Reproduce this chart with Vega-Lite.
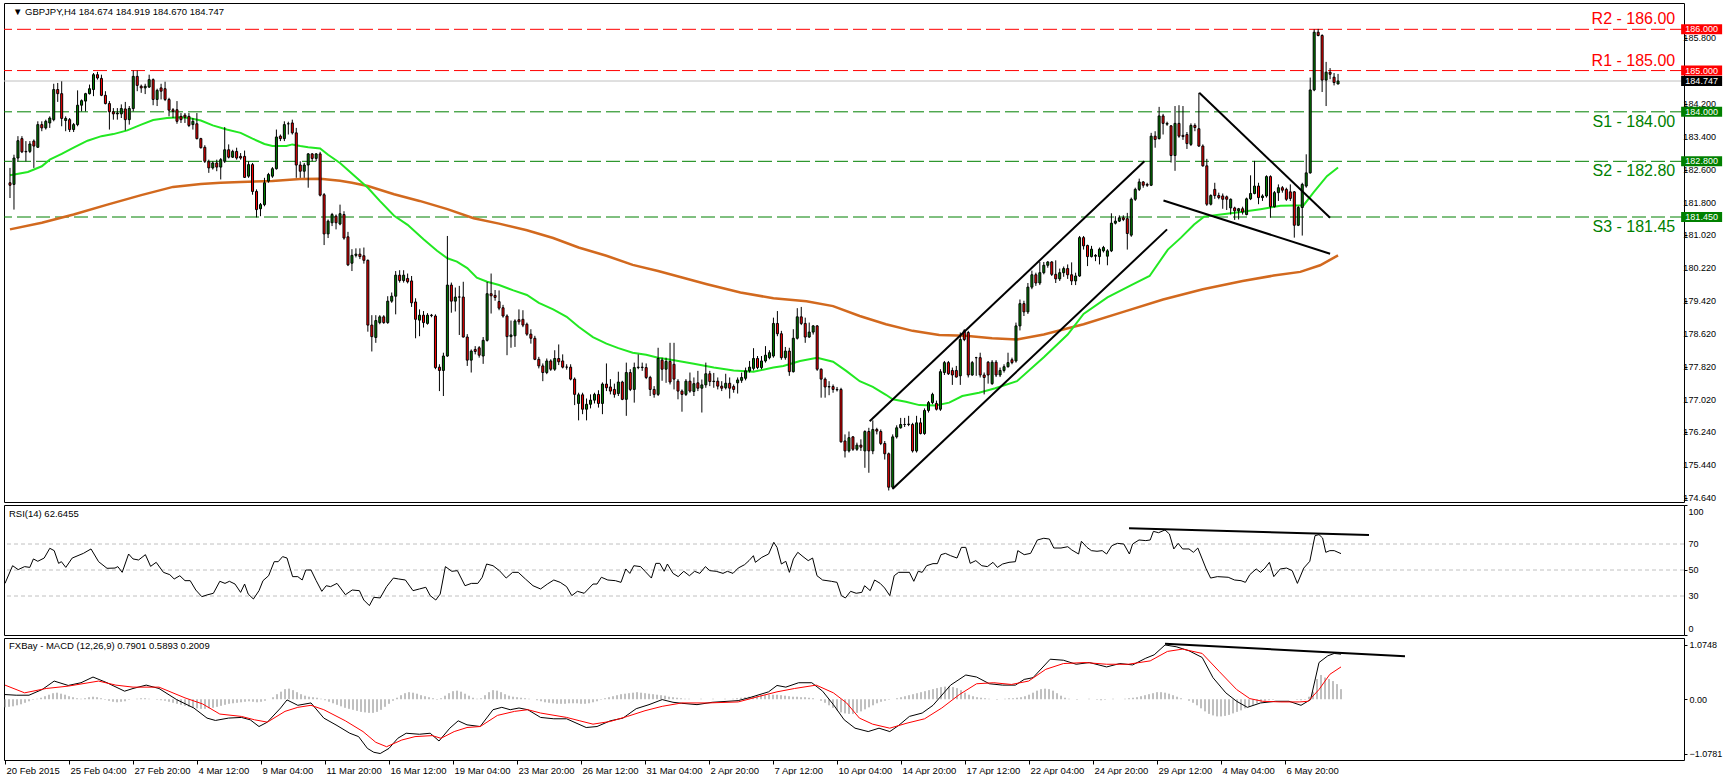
{
"$schema":"https://vega.github.io/schema/vega-lite/v6.json",
"padding":{"left":2,"top":2,"right":0,"bottom":0},
"background":"white",
"spacing":3,
"bounds":"flush",
"config":{"view":{"stroke":"#000","strokeWidth":1},"axis":{"labelFont":"Liberation Sans","labelOverlap":false},"text":{"font":"Liberation Sans"}},
"resolve":{"scale":{"x":"independent","y":"independent"}},
"datasets":{
"bars":[
{"i":0,"o":182.28,"h":182.64,"l":181.91,"c":182.22,"m":-0.16},
{"i":1,"o":182.24,"h":182.96,"l":181.63,"c":182.88,"m":-0.15},
{"i":2,"o":182.88,"h":183.41,"l":182.8,"c":183.3,"m":-0.14},
{"i":3,"o":183.35,"h":183.41,"l":183.0,"c":183.03,"m":-0.12},
{"i":4,"o":183.04,"h":183.29,"l":182.8,"c":183.03,"m":-0.1},
{"i":5,"o":183.04,"h":183.29,"l":183.0,"c":183.22,"m":-0.07},
{"i":6,"o":183.29,"h":183.33,"l":182.64,"c":183.17,"m":-0.04},
{"i":7,"o":183.14,"h":183.77,"l":183.13,"c":183.69,"m":-0.01},
{"i":8,"o":183.69,"h":183.77,"l":183.53,"c":183.61,"m":0.01},
{"i":9,"o":183.61,"h":183.81,"l":183.57,"c":183.77,"m":0.03},
{"i":10,"o":183.73,"h":183.89,"l":183.61,"c":183.85,"m":0.06},
{"i":11,"o":183.81,"h":184.68,"l":183.77,"c":184.54,"m":0.09},
{"i":12,"o":184.54,"h":184.7,"l":184.24,"c":184.44,"m":0.12},
{"i":13,"o":184.44,"h":184.74,"l":183.65,"c":183.84,"m":0.13},
{"i":14,"o":183.79,"h":183.89,"l":183.53,"c":183.84,"m":0.11},
{"i":15,"o":183.81,"h":183.85,"l":183.51,"c":183.57,"m":0.09},
{"i":16,"o":183.57,"h":183.73,"l":183.51,"c":183.69,"m":0.06},
{"i":17,"o":183.69,"h":184.52,"l":183.65,"c":184.16,"m":0.04},
{"i":18,"o":184.16,"h":184.3,"l":184.01,"c":184.27,"m":0.02},
{"i":19,"o":184.26,"h":184.46,"l":184.01,"c":184.44,"m":0.01},
{"i":20,"o":184.44,"h":184.66,"l":184.42,"c":184.56,"m":0.02},
{"i":21,"o":184.54,"h":184.94,"l":184.38,"c":184.9,"m":0.04},
{"i":22,"o":184.9,"h":184.97,"l":184.78,"c":184.82,"m":0.05},
{"i":23,"o":184.81,"h":184.9,"l":184.38,"c":184.4,"m":0.04},
{"i":24,"o":184.4,"h":184.5,"l":184.18,"c":184.2,"m":0.02},
{"i":25,"o":184.2,"h":184.26,"l":183.57,"c":184.0,"m":-0.01},
{"i":26,"o":184.0,"h":184.09,"l":183.81,"c":183.95,"m":-0.03},
{"i":27,"o":183.95,"h":184.09,"l":183.81,"c":183.97,"m":-0.05},
{"i":28,"o":183.95,"h":184.18,"l":183.85,"c":184.08,"m":-0.06},
{"i":29,"o":184.07,"h":184.24,"l":183.55,"c":183.81,"m":-0.05},
{"i":30,"o":183.81,"h":184.14,"l":183.69,"c":184.08,"m":-0.04},
{"i":31,"o":184.08,"h":185.0,"l":184.01,"c":184.86,"m":-0.01},
{"i":32,"o":184.86,"h":185.0,"l":184.5,"c":184.64,"m":0},
{"i":33,"o":184.62,"h":184.66,"l":184.46,"c":184.58,"m":0.01},
{"i":34,"o":184.58,"h":184.68,"l":184.43,"c":184.62,"m":0.02},
{"i":35,"o":184.6,"h":184.9,"l":184.58,"c":184.78,"m":0.02},
{"i":36,"o":184.78,"h":184.81,"l":184.16,"c":184.3,"m":0.01},
{"i":37,"o":184.3,"h":184.56,"l":184.14,"c":184.52,"m":0},
{"i":38,"o":184.58,"h":184.68,"l":184.3,"c":184.5,"m":-0.01},
{"i":39,"o":184.56,"h":184.73,"l":184.26,"c":184.3,"m":-0.02},
{"i":40,"o":184.3,"h":184.34,"l":183.89,"c":184.04,"m":-0.03},
{"i":41,"o":184.05,"h":184.09,"l":183.85,"c":184.01,"m":-0.05},
{"i":42,"o":184.05,"h":184.26,"l":183.71,"c":183.77,"m":-0.07},
{"i":43,"o":183.89,"h":183.97,"l":183.73,"c":183.81,"m":-0.09},
{"i":44,"o":183.92,"h":183.97,"l":183.73,"c":183.87,"m":-0.11},
{"i":45,"o":183.89,"h":183.97,"l":183.63,"c":183.67,"m":-0.13},
{"i":46,"o":183.69,"h":183.85,"l":183.57,"c":183.77,"m":-0.15},
{"i":47,"o":183.71,"h":183.97,"l":183.33,"c":183.35,"m":-0.17},
{"i":48,"o":183.35,"h":183.37,"l":183.11,"c":183.13,"m":-0.18},
{"i":49,"o":183.14,"h":183.19,"l":182.76,"c":182.8,"m":-0.19},
{"i":50,"o":182.79,"h":182.84,"l":182.52,"c":182.64,"m":-0.19},
{"i":51,"o":182.64,"h":182.8,"l":182.6,"c":182.76,"m":-0.18},
{"i":52,"o":182.76,"h":182.84,"l":182.56,"c":182.66,"m":-0.17},
{"i":53,"o":182.66,"h":182.88,"l":182.36,"c":182.84,"m":-0.15},
{"i":54,"o":182.8,"h":183.63,"l":182.76,"c":183.08,"m":-0.13},
{"i":55,"o":183.08,"h":183.21,"l":182.87,"c":182.9,"m":-0.11},
{"i":56,"o":182.9,"h":183.08,"l":182.88,"c":183.04,"m":-0.09},
{"i":57,"o":183.04,"h":183.13,"l":182.84,"c":182.88,"m":-0.08},
{"i":58,"o":182.92,"h":183.0,"l":182.84,"c":182.88,"m":-0.07},
{"i":59,"o":182.92,"h":183.06,"l":182.4,"c":182.41,"m":-0.06},
{"i":60,"o":182.44,"h":182.8,"l":182.4,"c":182.72,"m":-0.05},
{"i":61,"o":182.72,"h":182.76,"l":181.99,"c":182.07,"m":-0.04},
{"i":62,"o":182.07,"h":182.12,"l":181.44,"c":181.63,"m":-0.05},
{"i":63,"o":181.65,"h":181.79,"l":181.47,"c":181.75,"m":-0.06},
{"i":64,"o":181.75,"h":182.4,"l":181.71,"c":182.28,"m":-0.05},
{"i":65,"o":182.32,"h":182.52,"l":182.28,"c":182.48,"m":-0.03},
{"i":66,"o":182.44,"h":182.66,"l":182.4,"c":182.62,"m":0},
{"i":67,"o":182.62,"h":183.57,"l":182.6,"c":183.39,"m":0.04},
{"i":68,"o":183.41,"h":183.45,"l":183.29,"c":183.35,"m":0.1},
{"i":69,"o":183.35,"h":183.77,"l":183.29,"c":183.69,"m":0.15},
{"i":70,"o":183.71,"h":183.76,"l":183.45,"c":183.71,"m":0.2},
{"i":71,"o":183.73,"h":183.81,"l":183.45,"c":183.49,"m":0.21},
{"i":72,"o":183.49,"h":183.61,"l":182.4,"c":182.71,"m":0.18},
{"i":73,"o":182.71,"h":182.8,"l":182.4,"c":182.56,"m":0.14},
{"i":74,"o":182.56,"h":182.76,"l":182.4,"c":182.71,"m":0.1},
{"i":75,"o":182.71,"h":183.0,"l":182.16,"c":182.98,"m":0.07},
{"i":76,"o":182.98,"h":183.0,"l":182.8,"c":182.87,"m":0.05},
{"i":77,"o":182.87,"h":183.0,"l":182.8,"c":182.98,"m":0.04},
{"i":78,"o":182.98,"h":183.03,"l":181.95,"c":181.98,"m":0.03},
{"i":79,"o":181.99,"h":182.03,"l":180.77,"c":181.04,"m":0.01},
{"i":80,"o":181.04,"h":181.39,"l":180.94,"c":181.35,"m":-0.02},
{"i":81,"o":181.31,"h":181.55,"l":181.23,"c":181.51,"m":-0.05},
{"i":82,"o":181.47,"h":181.51,"l":181.15,"c":181.31,"m":-0.08},
{"i":83,"o":181.28,"h":181.75,"l":181.25,"c":181.53,"m":-0.11},
{"i":84,"o":181.51,"h":181.59,"l":180.9,"c":180.94,"m":-0.14},
{"i":85,"o":180.97,"h":181.09,"l":180.26,"c":180.29,"m":-0.17},
{"i":86,"o":180.33,"h":180.67,"l":180.14,"c":180.52,"m":-0.19},
{"i":87,"o":180.52,"h":180.69,"l":180.47,"c":180.55,"m":-0.21},
{"i":88,"o":180.55,"h":180.69,"l":180.43,"c":180.49,"m":-0.23},
{"i":89,"o":180.51,"h":180.71,"l":180.32,"c":180.4,"m":-0.25},
{"i":90,"o":180.4,"h":180.42,"l":178.67,"c":178.83,"m":-0.26},
{"i":91,"o":178.83,"h":179.07,"l":178.19,"c":178.55,"m":-0.27},
{"i":92,"o":178.53,"h":179.07,"l":178.4,"c":178.94,"m":-0.27},
{"i":93,"o":178.89,"h":179.07,"l":178.85,"c":179.03,"m":-0.25},
{"i":94,"o":179.03,"h":179.07,"l":178.86,"c":178.89,"m":-0.21},
{"i":95,"o":178.89,"h":179.53,"l":178.86,"c":179.41,"m":-0.15},
{"i":96,"o":179.41,"h":179.62,"l":179.37,"c":179.53,"m":-0.09},
{"i":97,"o":179.53,"h":180.14,"l":179.09,"c":180.04,"m":-0.03},
{"i":98,"o":180.04,"h":180.16,"l":179.86,"c":179.91,"m":0.03},
{"i":99,"o":179.91,"h":180.16,"l":179.86,"c":180.04,"m":0.08},
{"i":100,"o":179.96,"h":180.08,"l":179.84,"c":179.88,"m":0.12},
{"i":101,"o":179.9,"h":180.02,"l":179.27,"c":179.37,"m":0.14},
{"i":102,"o":179.39,"h":179.48,"l":178.51,"c":178.97,"m":0.13},
{"i":103,"o":178.95,"h":179.21,"l":178.56,"c":179.07,"m":0.11},
{"i":104,"o":179.07,"h":179.17,"l":178.77,"c":178.89,"m":0.08},
{"i":105,"o":178.87,"h":179.12,"l":178.84,"c":179.07,"m":0.06},
{"i":106,"o":179.07,"h":179.1,"l":179.02,"c":179.06,"m":0.04},
{"i":107,"o":179.05,"h":179.09,"l":177.76,"c":177.8,"m":0.02},
{"i":108,"o":177.81,"h":177.88,"l":177.23,"c":177.73,"m":-0.01},
{"i":109,"o":177.73,"h":178.16,"l":177.11,"c":178.08,"m":0.02},
{"i":110,"o":178.08,"h":180.99,"l":178.06,"c":179.8,"m":0.07},
{"i":111,"o":179.8,"h":179.86,"l":179.13,"c":179.41,"m":0.12},
{"i":112,"o":179.41,"h":179.74,"l":179.16,"c":179.51,"m":0.16},
{"i":113,"o":179.51,"h":179.78,"l":178.59,"c":179.51,"m":0.17},
{"i":114,"o":179.51,"h":179.88,"l":178.53,"c":178.54,"m":0.15},
{"i":115,"o":178.54,"h":178.61,"l":177.84,"c":177.98,"m":0.11},
{"i":116,"o":177.98,"h":178.24,"l":177.68,"c":178.2,"m":0.07},
{"i":117,"o":178.24,"h":178.32,"l":178.12,"c":178.19,"m":0.03},
{"i":118,"o":178.28,"h":178.32,"l":178.04,"c":178.1,"m":0.01},
{"i":119,"o":178.08,"h":178.54,"l":177.89,"c":178.46,"m":0.02},
{"i":120,"o":178.46,"h":179.88,"l":178.43,"c":179.59,"m":0.08},
{"i":121,"o":179.59,"h":180.08,"l":179.11,"c":179.54,"m":0.14},
{"i":122,"o":179.55,"h":179.68,"l":179.42,"c":179.5,"m":0.18},
{"i":123,"o":179.4,"h":179.67,"l":179.19,"c":179.24,"m":0.17},
{"i":124,"o":179.25,"h":179.32,"l":179.01,"c":179.05,"m":0.14},
{"i":125,"o":179.05,"h":179.09,"l":178.1,"c":178.55,"m":0.1},
{"i":126,"o":178.55,"h":178.94,"l":178.28,"c":178.59,"m":0.07},
{"i":127,"o":178.57,"h":178.97,"l":178.3,"c":178.93,"m":0.05},
{"i":128,"o":178.96,"h":179.21,"l":178.84,"c":178.91,"m":0.04},
{"i":129,"o":178.97,"h":179.19,"l":178.78,"c":178.83,"m":0.03},
{"i":130,"o":178.85,"h":178.89,"l":178.57,"c":178.61,"m":0.02},
{"i":131,"o":178.61,"h":178.73,"l":178.38,"c":178.51,"m":0.01},
{"i":132,"o":178.51,"h":178.57,"l":177.98,"c":178.0,"m":0},
{"i":133,"o":178.0,"h":178.06,"l":177.78,"c":177.84,"m":-0.02},
{"i":134,"o":177.84,"h":177.9,"l":177.47,"c":177.68,"m":-0.04},
{"i":135,"o":177.68,"h":178.02,"l":177.64,"c":177.96,"m":-0.06},
{"i":136,"o":177.96,"h":178.0,"l":177.72,"c":177.76,"m":-0.07},
{"i":137,"o":177.76,"h":178.22,"l":177.72,"c":178.02,"m":-0.08},
{"i":138,"o":178.02,"h":178.36,"l":177.86,"c":177.94,"m":-0.09},
{"i":139,"o":177.96,"h":178.12,"l":177.78,"c":177.81,"m":-0.09},
{"i":140,"o":177.81,"h":177.88,"l":177.75,"c":177.81,"m":-0.09},
{"i":141,"o":177.81,"h":177.88,"l":177.49,"c":177.52,"m":-0.08},
{"i":142,"o":177.52,"h":177.56,"l":176.89,"c":177.15,"m":-0.08},
{"i":143,"o":176.93,"h":177.19,"l":176.52,"c":177.14,"m":-0.08},
{"i":144,"o":177.14,"h":177.19,"l":176.67,"c":176.79,"m":-0.09},
{"i":145,"o":176.79,"h":177.05,"l":176.52,"c":176.91,"m":-0.09},
{"i":146,"o":176.91,"h":177.15,"l":176.81,"c":177.01,"m":-0.08},
{"i":147,"o":177.01,"h":177.19,"l":176.93,"c":177.15,"m":-0.06},
{"i":148,"o":177.15,"h":177.25,"l":176.83,"c":176.93,"m":-0.04},
{"i":149,"o":176.93,"h":177.44,"l":176.67,"c":177.4,"m":-0.01},
{"i":150,"o":177.4,"h":177.9,"l":177.23,"c":177.31,"m":0.02},
{"i":151,"o":177.33,"h":177.52,"l":177.15,"c":177.23,"m":0.04},
{"i":152,"o":177.27,"h":177.41,"l":177.07,"c":177.15,"m":0.06},
{"i":153,"o":177.17,"h":177.7,"l":177.11,"c":177.45,"m":0.08},
{"i":154,"o":177.45,"h":177.48,"l":177.01,"c":177.03,"m":0.1},
{"i":155,"o":177.03,"h":177.92,"l":176.63,"c":177.68,"m":0.11},
{"i":156,"o":177.68,"h":177.76,"l":177.23,"c":177.27,"m":0.12},
{"i":157,"o":177.27,"h":177.92,"l":176.95,"c":177.8,"m":0.13},
{"i":158,"o":177.8,"h":178.12,"l":177.76,"c":177.81,"m":0.14},
{"i":159,"o":177.81,"h":177.92,"l":177.72,"c":177.8,"m":0.13},
{"i":160,"o":177.8,"h":177.9,"l":177.52,"c":177.56,"m":0.12},
{"i":161,"o":177.56,"h":177.6,"l":177.11,"c":177.27,"m":0.11},
{"i":162,"o":177.27,"h":177.35,"l":177.07,"c":177.15,"m":0.1},
{"i":163,"o":177.15,"h":178.28,"l":177.11,"c":178.02,"m":0.09},
{"i":164,"o":177.98,"h":178.04,"l":177.48,"c":177.76,"m":0.08},
{"i":165,"o":177.76,"h":178.04,"l":177.43,"c":177.95,"m":0.07},
{"i":166,"o":177.95,"h":178.4,"l":177.39,"c":177.45,"m":0.05},
{"i":167,"o":177.88,"h":178.4,"l":177.27,"c":177.52,"m":0.04},
{"i":168,"o":177.47,"h":177.52,"l":177.03,"c":177.23,"m":0.03},
{"i":169,"o":177.23,"h":177.27,"l":176.73,"c":177.15,"m":0.02},
{"i":170,"o":177.15,"h":177.52,"l":177.11,"c":177.47,"m":0.01},
{"i":171,"o":177.47,"h":177.68,"l":177.19,"c":177.23,"m":0.01},
{"i":172,"o":177.22,"h":177.56,"l":177.11,"c":177.41,"m":0},
{"i":173,"o":177.43,"h":177.72,"l":177.23,"c":177.3,"m":0},
{"i":174,"o":177.3,"h":177.51,"l":176.71,"c":177.38,"m":0.01},
{"i":175,"o":177.38,"h":177.92,"l":177.31,"c":177.65,"m":0},
{"i":176,"o":177.65,"h":177.72,"l":177.35,"c":177.46,"m":0},
{"i":177,"o":177.46,"h":177.67,"l":177.31,"c":177.47,"m":0.01},
{"i":178,"o":177.47,"h":177.56,"l":177.27,"c":177.35,"m":0},
{"i":179,"o":177.35,"h":177.47,"l":177.23,"c":177.3,"m":0},
{"i":180,"o":177.31,"h":177.65,"l":177.27,"c":177.42,"m":0.01},
{"i":181,"o":177.42,"h":177.56,"l":177.05,"c":177.3,"m":0},
{"i":182,"o":177.34,"h":177.39,"l":177.19,"c":177.27,"m":0.01},
{"i":183,"o":177.43,"h":177.56,"l":177.17,"c":177.5,"m":0.02},
{"i":184,"o":177.49,"h":177.68,"l":177.43,"c":177.56,"m":0.03},
{"i":185,"o":177.54,"h":177.8,"l":177.49,"c":177.72,"m":0.04},
{"i":186,"o":177.72,"h":177.96,"l":177.68,"c":177.81,"m":0.05},
{"i":187,"o":177.78,"h":178.27,"l":177.73,"c":178.02,"m":0.06},
{"i":188,"o":178.02,"h":178.08,"l":177.76,"c":177.8,"m":0.07},
{"i":189,"o":177.8,"h":178.08,"l":177.76,"c":177.96,"m":0.08},
{"i":190,"o":177.96,"h":178.32,"l":177.92,"c":178.1,"m":0.08},
{"i":191,"o":178.04,"h":178.22,"l":178.0,"c":178.16,"m":0.09},
{"i":192,"o":178.08,"h":179.01,"l":178.04,"c":178.87,"m":0.09},
{"i":193,"o":178.87,"h":179.17,"l":178.56,"c":178.62,"m":0.09},
{"i":194,"o":178.62,"h":178.69,"l":177.99,"c":178.04,"m":0.08},
{"i":195,"o":178.04,"h":178.3,"l":177.99,"c":178.2,"m":0.07},
{"i":196,"o":178.2,"h":178.28,"l":177.6,"c":177.7,"m":0.06},
{"i":197,"o":177.7,"h":178.73,"l":177.68,"c":178.51,"m":0.05},
{"i":198,"o":178.51,"h":179.24,"l":178.48,"c":179.03,"m":0.05},
{"i":199,"o":179.03,"h":179.27,"l":178.83,"c":178.87,"m":0.04},
{"i":200,"o":178.87,"h":179.01,"l":178.4,"c":178.54,"m":0.04},
{"i":201,"o":178.54,"h":178.89,"l":178.52,"c":178.66,"m":0.03},
{"i":202,"o":178.66,"h":178.83,"l":178.6,"c":178.81,"m":0.02},
{"i":203,"o":178.81,"h":178.83,"l":177.72,"c":177.76,"m":0},
{"i":204,"o":177.76,"h":177.78,"l":177.07,"c":177.52,"m":-0.03},
{"i":205,"o":177.52,"h":177.56,"l":177.07,"c":177.33,"m":-0.07},
{"i":206,"o":177.33,"h":177.47,"l":177.13,"c":177.34,"m":-0.12},
{"i":207,"o":177.34,"h":177.39,"l":177.19,"c":177.27,"m":-0.17},
{"i":208,"o":177.27,"h":177.33,"l":177.22,"c":177.26,"m":-0.22},
{"i":209,"o":177.27,"h":177.31,"l":175.98,"c":176.0,"m":-0.26},
{"i":210,"o":176.02,"h":176.18,"l":175.62,"c":175.78,"m":-0.28},
{"i":211,"o":175.78,"h":176.25,"l":175.74,"c":176.1,"m":-0.29},
{"i":212,"o":176.12,"h":176.14,"l":175.78,"c":175.82,"m":-0.29},
{"i":213,"o":175.82,"h":175.98,"l":175.78,"c":175.92,"m":-0.27},
{"i":214,"o":175.92,"h":176.06,"l":175.78,"c":175.87,"m":-0.24},
{"i":215,"o":175.78,"h":176.28,"l":175.37,"c":176.25,"m":-0.2},
{"i":216,"o":176.25,"h":176.34,"l":175.25,"c":175.78,"m":-0.16},
{"i":217,"o":175.78,"h":176.52,"l":175.7,"c":176.3,"m":-0.12},
{"i":218,"o":176.3,"h":176.34,"l":176.18,"c":176.26,"m":-0.08},
{"i":219,"o":176.25,"h":176.3,"l":175.92,"c":175.96,"m":-0.05},
{"i":220,"o":175.96,"h":176.02,"l":175.57,"c":175.71,"m":-0.03},
{"i":221,"o":175.71,"h":175.74,"l":174.82,"c":174.9,"m":-0.01},
{"i":222,"o":174.9,"h":176.18,"l":174.85,"c":176.12,"m":0},
{"i":223,"o":176.12,"h":176.4,"l":176.08,"c":176.34,"m":0.02},
{"i":224,"o":176.34,"h":176.58,"l":176.32,"c":176.42,"m":0.04},
{"i":225,"o":176.42,"h":176.58,"l":176.36,"c":176.42,"m":0.06},
{"i":226,"o":176.42,"h":176.63,"l":176.38,"c":176.43,"m":0.08},
{"i":227,"o":176.42,"h":176.46,"l":175.74,"c":175.78,"m":0.1},
{"i":228,"o":175.78,"h":176.63,"l":175.74,"c":176.46,"m":0.12},
{"i":229,"o":176.46,"h":176.58,"l":176.18,"c":176.2,"m":0.14},
{"i":230,"o":176.2,"h":176.81,"l":176.17,"c":176.76,"m":0.16},
{"i":231,"o":176.76,"h":176.99,"l":176.71,"c":176.95,"m":0.18},
{"i":232,"o":176.95,"h":177.19,"l":176.91,"c":177.15,"m":0.2},
{"i":233,"o":176.93,"h":177.0,"l":176.76,"c":176.79,"m":0.22},
{"i":234,"o":176.79,"h":177.76,"l":176.75,"c":177.7,"m":0.24},
{"i":235,"o":177.68,"h":177.96,"l":177.62,"c":177.92,"m":0.25},
{"i":236,"o":177.92,"h":177.96,"l":177.62,"c":177.65,"m":0.25},
{"i":237,"o":177.73,"h":177.8,"l":177.38,"c":177.62,"m":0.24},
{"i":238,"o":177.73,"h":177.84,"l":177.56,"c":177.57,"m":0.22},
{"i":239,"o":177.6,"h":178.65,"l":177.38,"c":178.48,"m":0.18},
{"i":240,"o":178.69,"h":178.73,"l":178.44,"c":178.48,"m":0.13},
{"i":241,"o":178.65,"h":178.69,"l":177.56,"c":177.62,"m":0.09},
{"i":242,"o":177.62,"h":177.96,"l":177.6,"c":177.92,"m":0.06},
{"i":243,"o":178.04,"h":178.06,"l":177.6,"c":178.04,"m":0.04},
{"i":244,"o":178.04,"h":178.16,"l":177.56,"c":177.62,"m":0.03},
{"i":245,"o":177.62,"h":177.68,"l":177.15,"c":177.56,"m":0.02},
{"i":246,"o":177.93,"h":177.96,"l":177.41,"c":177.62,"m":0.01},
{"i":247,"o":177.41,"h":177.98,"l":177.38,"c":177.93,"m":0},
{"i":248,"o":177.93,"h":177.98,"l":177.57,"c":177.62,"m":-0.01},
{"i":249,"o":177.62,"h":177.8,"l":177.57,"c":177.73,"m":0},
{"i":250,"o":177.73,"h":177.88,"l":177.68,"c":177.82,"m":0.01},
{"i":251,"o":177.82,"h":178.16,"l":177.8,"c":177.92,"m":0.02},
{"i":252,"o":177.99,"h":178.04,"l":177.88,"c":177.92,"m":0.02},
{"i":253,"o":177.96,"h":178.89,"l":177.92,"c":178.81,"m":0.03},
{"i":254,"o":178.81,"h":179.45,"l":178.7,"c":179.35,"m":0.04},
{"i":255,"o":179.35,"h":179.42,"l":179.05,"c":179.15,"m":0.06},
{"i":256,"o":179.15,"h":179.85,"l":179.1,"c":179.75,"m":0.09},
{"i":257,"o":179.75,"h":180.15,"l":179.7,"c":180.05,"m":0.13},
{"i":258,"o":180.05,"h":180.1,"l":179.78,"c":179.85,"m":0.17},
{"i":259,"o":179.85,"h":180.36,"l":179.8,"c":180.1,"m":0.2},
{"i":260,"o":180.1,"h":180.36,"l":180.06,"c":180.28,"m":0.21},
{"i":261,"o":180.28,"h":180.38,"l":180.22,"c":180.36,"m":0.2},
{"i":262,"o":180.36,"h":180.38,"l":180.02,"c":180.06,"m":0.17},
{"i":263,"o":180.06,"h":180.4,"l":179.85,"c":179.95,"m":0.12},
{"i":264,"o":179.95,"h":180.2,"l":179.9,"c":180.1,"m":0.07},
{"i":265,"o":180.1,"h":180.25,"l":180.0,"c":180.2,"m":0.03},
{"i":266,"o":180.2,"h":180.3,"l":179.95,"c":180.05,"m":0.01},
{"i":267,"o":180.05,"h":180.35,"l":179.8,"c":179.9,"m":0},
{"i":268,"o":179.9,"h":180.1,"l":179.8,"c":180.02,"m":-0.01},
{"i":269,"o":180.02,"h":180.99,"l":180.0,"c":180.95,"m":0},
{"i":270,"o":180.95,"h":180.99,"l":180.66,"c":180.75,"m":0},
{"i":271,"o":180.76,"h":180.78,"l":180.26,"c":180.49,"m":0.01},
{"i":272,"o":180.49,"h":180.75,"l":180.47,"c":180.67,"m":0},
{"i":273,"o":180.5,"h":180.55,"l":180.38,"c":180.52,"m":-0.01},
{"i":274,"o":180.49,"h":180.71,"l":180.3,"c":180.67,"m":-0.02},
{"i":275,"o":180.63,"h":180.75,"l":180.59,"c":180.71,"m":-0.01},
{"i":276,"o":180.5,"h":180.67,"l":180.28,"c":180.63,"m":0},
{"i":277,"o":180.63,"h":181.54,"l":180.6,"c":181.3,"m":0.01},
{"i":278,"o":181.3,"h":181.47,"l":181.27,"c":181.35,"m":0},
{"i":279,"o":181.35,"h":181.49,"l":181.33,"c":181.43,"m":0},
{"i":280,"o":181.43,"h":181.49,"l":181.35,"c":181.39,"m":0.01},
{"i":281,"o":181.41,"h":181.55,"l":180.66,"c":181.05,"m":0.02},
{"i":282,"o":181.01,"h":181.92,"l":180.97,"c":181.88,"m":0.03},
{"i":283,"o":181.88,"h":182.16,"l":181.84,"c":182.12,"m":0.04},
{"i":284,"o":182.12,"h":182.38,"l":182.08,"c":182.3,"m":0.06},
{"i":285,"o":182.3,"h":182.32,"l":182.16,"c":182.22,"m":0.08},
{"i":286,"o":182.24,"h":182.28,"l":182.18,"c":182.22,"m":0.1},
{"i":287,"o":182.22,"h":183.49,"l":182.2,"c":183.41,"m":0.12},
{"i":288,"o":183.41,"h":183.53,"l":183.13,"c":183.33,"m":0.14},
{"i":289,"o":183.35,"h":184.12,"l":183.33,"c":183.9,"m":0.14},
{"i":290,"o":183.9,"h":183.95,"l":183.45,"c":183.72,"m":0.13},
{"i":291,"o":183.7,"h":183.76,"l":183.66,"c":183.72,"m":0.11},
{"i":292,"o":183.66,"h":183.68,"l":182.77,"c":182.94,"m":0.08},
{"i":293,"o":182.94,"h":184.14,"l":182.57,"c":183.72,"m":0.05},
{"i":294,"o":183.72,"h":184.16,"l":183.37,"c":183.41,"m":0.02},
{"i":295,"o":183.43,"h":184.14,"l":183.32,"c":183.4,"m":0},
{"i":296,"o":183.45,"h":183.51,"l":183.1,"c":183.23,"m":-0.03},
{"i":297,"o":183.21,"h":183.72,"l":183.17,"c":183.67,"m":-0.07},
{"i":298,"o":183.67,"h":183.72,"l":183.53,"c":183.62,"m":-0.12},
{"i":299,"o":183.59,"h":184.46,"l":183.15,"c":183.17,"m":-0.18},
{"i":300,"o":183.17,"h":183.21,"l":182.67,"c":182.69,"m":-0.24},
{"i":301,"o":182.69,"h":182.86,"l":181.72,"c":181.76,"m":-0.29},
{"i":302,"o":181.76,"h":182.0,"l":181.73,"c":181.97,"m":-0.32},
{"i":303,"o":182.12,"h":182.28,"l":181.89,"c":181.97,"m":-0.34},
{"i":304,"o":181.97,"h":182.04,"l":181.88,"c":181.92,"m":-0.34},
{"i":305,"o":181.96,"h":182.02,"l":181.65,"c":181.88,"m":-0.33},
{"i":306,"o":181.94,"h":181.97,"l":181.62,"c":181.88,"m":-0.31},
{"i":307,"o":181.67,"h":181.9,"l":181.51,"c":181.88,"m":-0.28},
{"i":308,"o":181.67,"h":181.7,"l":181.38,"c":181.6,"m":-0.25},
{"i":309,"o":181.6,"h":181.67,"l":181.39,"c":181.65,"m":-0.22},
{"i":310,"o":181.65,"h":181.7,"l":181.51,"c":181.57,"m":-0.18},
{"i":311,"o":181.51,"h":181.92,"l":181.49,"c":181.89,"m":-0.14},
{"i":312,"o":181.89,"h":182.46,"l":181.86,"c":182.02,"m":-0.11},
{"i":313,"o":182.02,"h":182.81,"l":182.0,"c":182.2,"m":-0.08},
{"i":314,"o":182.2,"h":182.28,"l":181.76,"c":181.92,"m":-0.05},
{"i":315,"o":181.92,"h":182.0,"l":181.84,"c":181.96,"m":-0.03},
{"i":316,"o":181.96,"h":182.46,"l":181.92,"c":182.43,"m":-0.02},
{"i":317,"o":182.43,"h":182.46,"l":181.43,"c":181.7,"m":-0.01},
{"i":318,"o":181.7,"h":182.08,"l":181.68,"c":182.04,"m":0},
{"i":319,"o":182.04,"h":182.24,"l":181.84,"c":182.16,"m":0},
{"i":320,"o":182.16,"h":182.2,"l":182.04,"c":182.1,"m":0},
{"i":321,"o":182.12,"h":182.16,"l":181.84,"c":181.88,"m":0},
{"i":322,"o":182.06,"h":182.24,"l":181.84,"c":181.9,"m":0},
{"i":323,"o":182.06,"h":182.08,"l":180.95,"c":181.25,"m":-0.01},
{"i":324,"o":181.25,"h":181.72,"l":181.23,"c":181.68,"m":-0.02},
{"i":325,"o":181.68,"h":182.28,"l":181.0,"c":182.24,"m":-0.01},
{"i":326,"o":182.2,"h":182.97,"l":182.16,"c":182.52,"m":0.05},
{"i":327,"o":182.52,"h":184.83,"l":182.5,"c":184.53,"m":0.15},
{"i":328,"o":184.53,"h":186.0,"l":184.5,"c":185.93,"m":0.4},
{"i":329,"o":185.93,"h":186.01,"l":185.83,"c":185.85,"m":0.48},
{"i":330,"o":185.85,"h":185.88,"l":184.48,"c":184.77,"m":0.43},
{"i":331,"o":184.77,"h":185.21,"l":184.14,"c":184.96,"m":0.4},
{"i":332,"o":184.96,"h":185.06,"l":184.79,"c":184.91,"m":0.36},
{"i":333,"o":184.84,"h":184.94,"l":184.64,"c":184.71,"m":0.3},
{"i":334,"o":184.674,"h":184.919,"l":184.67,"c":184.747,"m":0.2}
],
"ma50":[
{"i":0,"v":182.46},{"i":4.5,"v":182.54},{"i":8,"v":182.68},{"i":10,"v":182.84},{"i":13,"v":182.98},{"i":16,"v":183.13},{"i":19.5,"v":183.3},{"i":23,"v":183.41},{"i":26,"v":183.46},{"i":29.5,"v":183.55},{"i":33,"v":183.69},{"i":36,"v":183.8},{"i":39.5,"v":183.85},{"i":43,"v":183.87},{"i":45,"v":183.85},{"i":48,"v":183.79},{"i":51,"v":183.67},{"i":54.5,"v":183.57},{"i":58,"v":183.49},{"i":61,"v":183.35},{"i":64,"v":183.22},{"i":66,"v":183.17},{"i":69.5,"v":183.17},{"i":71,"v":183.21},{"i":73,"v":183.17},{"i":75,"v":183.14},{"i":78,"v":183.11},{"i":80,"v":182.96},{"i":83,"v":182.76},{"i":86.6,"v":182.45},{"i":90,"v":182.16},{"i":93,"v":181.84},{"i":96.6,"v":181.48},{"i":100,"v":181.26},{"i":104,"v":180.91},{"i":107.4,"v":180.63},{"i":110,"v":180.45},{"i":112.4,"v":180.37},{"i":115,"v":180.21},{"i":117.4,"v":179.98},{"i":120,"v":179.88},{"i":123,"v":179.8},{"i":126.6,"v":179.67},{"i":130,"v":179.56},{"i":133,"v":179.37},{"i":136.6,"v":179.21},{"i":140,"v":179.03},{"i":143,"v":178.79},{"i":146.6,"v":178.54},{"i":150,"v":178.38},{"i":153,"v":178.27},{"i":156.6,"v":178.16},{"i":160,"v":178.11},{"i":163,"v":178.04},{"i":167,"v":177.98},{"i":172,"v":177.89},{"i":177,"v":177.8},{"i":182,"v":177.73},{"i":187,"v":177.7},{"i":192,"v":177.8},{"i":194.5,"v":177.84},{"i":198.7,"v":177.96},{"i":203,"v":178.04},{"i":207,"v":177.94},{"i":210.3,"v":177.72},{"i":213.7,"v":177.47},{"i":217,"v":177.33},{"i":220.3,"v":177.14},{"i":222,"v":177.03},{"i":225.3,"v":176.97},{"i":228.7,"v":176.89},{"i":232.8,"v":176.88},{"i":236.2,"v":176.95},{"i":239.5,"v":177.11},{"i":243.7,"v":177.19},{"i":247.8,"v":177.3},{"i":253.25,"v":177.47},{"i":260,"v":178.05},{"i":266,"v":178.6},{"i":270,"v":179.1},{"i":276,"v":179.5},{"i":282,"v":179.8},{"i":286.6,"v":180.02},{"i":291.2,"v":180.66},{"i":294.5,"v":180.95},{"i":297.8,"v":181.27},{"i":300.3,"v":181.46},{"i":304.5,"v":181.51},{"i":309.5,"v":181.57},{"i":314.5,"v":181.64},{"i":319.5,"v":181.72},{"i":322.8,"v":181.73},{"i":325.3,"v":181.73},{"i":327.8,"v":182.04},{"i":331.2,"v":182.44},{"i":334,"v":182.65}
],
"ma200":[
{"i":0,"v":181.15},{"i":8,"v":181.31},{"i":16,"v":181.51},{"i":24.5,"v":181.75},{"i":33,"v":181.98},{"i":41,"v":182.18},{"i":48,"v":182.25},{"i":53,"v":182.28},{"i":58,"v":182.3},{"i":66,"v":182.32},{"i":73,"v":182.37},{"i":78,"v":182.38},{"i":83,"v":182.33},{"i":86,"v":182.28},{"i":90,"v":182.2},{"i":96.6,"v":182.0},{"i":103,"v":181.84},{"i":110,"v":181.64},{"i":116.6,"v":181.42},{"i":123,"v":181.29},{"i":130,"v":181.13},{"i":136.6,"v":180.94},{"i":143,"v":180.71},{"i":150,"v":180.51},{"i":156.6,"v":180.29},{"i":163,"v":180.14},{"i":169.5,"v":179.97},{"i":175.3,"v":179.82},{"i":183.7,"v":179.62},{"i":192,"v":179.48},{"i":200.3,"v":179.41},{"i":207,"v":179.29},{"i":213.7,"v":179.05},{"i":220.3,"v":178.85},{"i":227,"v":178.69},{"i":233.7,"v":178.59},{"i":240.3,"v":178.57},{"i":247,"v":178.51},{"i":253.25,"v":178.48},{"i":260,"v":178.6},{"i":270,"v":178.85},{"i":280,"v":179.15},{"i":290,"v":179.45},{"i":300,"v":179.7},{"i":310,"v":179.9},{"i":317.8,"v":180.03},{"i":324.5,"v":180.12},{"i":329.5,"v":180.28},{"i":334,"v":180.52}
],
"rsi":[
{"i":0,"v":39.7},{"i":1.9,"v":53.3},{"i":3.3,"v":50.3},{"i":4.9,"v":52.6},{"i":6.2,"v":52},{"i":7.1,"v":58.5},{"i":8.2,"v":56.7},{"i":9.8,"v":59.2},{"i":11.2,"v":66.7},{"i":12.3,"v":64.9},{"i":13.4,"v":55.1},{"i":14.1,"v":56.4},{"i":15.2,"v":52},{"i":16.8,"v":59.2},{"i":19.6,"v":62.8},{"i":21.5,"v":66.2},{"i":23.4,"v":56.4},{"i":25.5,"v":51.3},{"i":27.5,"v":51.5},{"i":28.2,"v":52.6},{"i":29.3,"v":48.2},{"i":30.9,"v":62.3},{"i":32,"v":58.5},{"i":33.4,"v":57.7},{"i":35.1,"v":61.8},{"i":36.4,"v":52.8},{"i":37.8,"v":55.9},{"i":39.6,"v":48.2},{"i":41.2,"v":46.4},{"i":42.3,"v":43.1},{"i":43.7,"v":45.6},{"i":45,"v":41.8},{"i":46.3,"v":41.8},{"i":47.7,"v":34.6},{"i":49.2,"v":29.5},{"i":50.5,"v":30.8},{"i":52.1,"v":32.1},{"i":53.7,"v":41.3},{"i":55,"v":39.7},{"i":56.1,"v":41.3},{"i":57.5,"v":39.2},{"i":58.9,"v":32.8},{"i":59.9,"v":39.2},{"i":60.8,"v":31.5},{"i":62.1,"v":27.7},{"i":63.5,"v":34.1},{"i":64.5,"v":41.8},{"i":65.9,"v":45.6},{"i":67.3,"v":56.4},{"i":68.3,"v":56.4},{"i":69.4,"v":60.3},{"i":70.5,"v":59.2},{"i":71.9,"v":44.9},{"i":73.2,"v":44.9},{"i":74.3,"v":42.3},{"i":75.2,"v":50},{"i":76.5,"v":50},{"i":77.8,"v":41.8},{"i":79.2,"v":33.6},{"i":80.3,"v":37.9},{"i":81.4,"v":37.2},{"i":83,"v":39.7},{"i":85.1,"v":31},{"i":86.8,"v":34.6},{"i":88.6,"v":34.1},{"i":89.7,"v":26.9},{"i":91.1,"v":22.6},{"i":92.2,"v":29},{"i":93.8,"v":28.5},{"i":95.4,"v":37.2},{"i":97.1,"v":43.8},{"i":98.4,"v":43.1},{"i":100.1,"v":42.3},{"i":102,"v":34.1},{"i":103.6,"v":35.4},{"i":105.2,"v":36.7},{"i":106.3,"v":30.3},{"i":107.7,"v":26.9},{"i":108.8,"v":31.5},{"i":110.1,"v":52.6},{"i":111.7,"v":49},{"i":113.1,"v":49.5},{"i":115,"v":37.9},{"i":116.6,"v":39.7},{"i":118.2,"v":39.7},{"i":119.3,"v":44.4},{"i":120.4,"v":54.6},{"i":122,"v":53.3},{"i":123.6,"v":49.5},{"i":125.3,"v":43.8},{"i":126.9,"v":48.2},{"i":128.3,"v":48.2},{"i":130.1,"v":43.1},{"i":132,"v":37.9},{"i":133.9,"v":35.4},{"i":135.6,"v":39.2},{"i":137.2,"v":42.3},{"i":138.8,"v":40.5},{"i":140.4,"v":37.2},{"i":141.7,"v":30.3},{"i":143.1,"v":33.6},{"i":144.8,"v":32.1},{"i":147,"v":39.2},{"i":148,"v":39.2},{"i":149.1,"v":44.4},{"i":150.7,"v":42.3},{"i":152.6,"v":41.8},{"i":154,"v":40.5},{"i":155.2,"v":50.8},{"i":156.2,"v":47.4},{"i":157.2,"v":53.3},{"i":158.9,"v":52.6},{"i":160,"v":49},{"i":161.6,"v":43.8},{"i":162.7,"v":55.1},{"i":163.7,"v":55.1},{"i":164.8,"v":49},{"i":165.6,"v":54.6},{"i":167,"v":47.4},{"i":168.3,"v":44.9},{"i":169.7,"v":49},{"i":171.1,"v":45.6},{"i":172.4,"v":49},{"i":173.7,"v":47.4},{"i":175.1,"v":52.6},{"i":176.2,"v":49.5},{"i":177.8,"v":49},{"i":179.5,"v":47.4},{"i":180.6,"v":49},{"i":182,"v":47.4},{"i":183.3,"v":51.5},{"i":184.9,"v":54.1},{"i":186,"v":57.2},{"i":187.1,"v":61},{"i":187.6,"v":55.9},{"i":189.2,"v":59.7},{"i":190.9,"v":62.3},{"i":192.2,"v":71.3},{"i":193,"v":67.4},{"i":194.1,"v":54.6},{"i":195.2,"v":56.7},{"i":196.1,"v":48.2},{"i":197.1,"v":58.5},{"i":198.2,"v":63.6},{"i":199.5,"v":60.3},{"i":200.8,"v":57.2},{"i":201.9,"v":59.2},{"i":203,"v":45.6},{"i":204.4,"v":42.3},{"i":206.6,"v":41.3},{"i":208,"v":40.5},{"i":209.1,"v":30.3},{"i":210.1,"v":28.5},{"i":211.4,"v":33.6},{"i":212.8,"v":32.1},{"i":214.2,"v":32.8},{"i":214.9,"v":37.9},{"i":216.3,"v":34.1},{"i":217.4,"v":42.3},{"i":218.8,"v":39.7},{"i":219.9,"v":36.2},{"i":221.2,"v":30.3},{"i":222.3,"v":45.6},{"i":223.4,"v":48.2},{"i":226.1,"v":48.2},{"i":227.2,"v":41.3},{"i":228.3,"v":49},{"i":229.3,"v":48.2},{"i":230.4,"v":53.3},{"i":232,"v":54.9},{"i":233.1,"v":54.9},{"i":234,"v":61.8},{"i":235.1,"v":62.8},{"i":236.4,"v":61},{"i":238,"v":59.2},{"i":239.1,"v":67.4},{"i":240.2,"v":67.4},{"i":241.3,"v":55.1},{"i":242.7,"v":57.2},{"i":244.2,"v":53.3},{"i":245.6,"v":52.6},{"i":247,"v":55.9},{"i":248.1,"v":52},{"i":249.4,"v":54.6},{"i":251,"v":55.9},{"i":252.6,"v":56.4},{"i":253.2,"v":64.9},{"i":254.8,"v":61.8},{"i":256.4,"v":62.8},{"i":258.1,"v":73.1},{"i":259.7,"v":74.4},{"i":261.1,"v":73.8},{"i":262.2,"v":66.9},{"i":264,"v":66.9},{"i":265.7,"v":67.9},{"i":266.7,"v":65.4},{"i":268.4,"v":62.3},{"i":269.1,"v":72.1},{"i":270.5,"v":67.4},{"i":271.6,"v":64.9},{"i":273,"v":64.4},{"i":274.3,"v":64.9},{"i":275.4,"v":62.3},{"i":276.7,"v":68.7},{"i":278.1,"v":70.5},{"i":279.7,"v":70},{"i":281.1,"v":62.3},{"i":281.9,"v":70},{"i":283.5,"v":73.1},{"i":285.2,"v":72.6},{"i":286.3,"v":73.1},{"i":287.1,"v":79.7},{"i":288.4,"v":78.7},{"i":290,"v":80.8},{"i":291.1,"v":77.7},{"i":292.2,"v":66.2},{"i":293.3,"v":70.5},{"i":294.4,"v":66.2},{"i":296,"v":66.2},{"i":297.1,"v":63.6},{"i":298.2,"v":66.9},{"i":299.3,"v":58.5},{"i":300.3,"v":50.8},{"i":301.4,"v":43.8},{"i":303.1,"v":44.9},{"i":305.8,"v":44.4},{"i":307.4,"v":42.3},{"i":309,"v":41.8},{"i":310.1,"v":40.5},{"i":311.2,"v":46.4},{"i":312.8,"v":50.8},{"i":313.9,"v":48.2},{"i":315,"v":51.5},{"i":316.1,"v":55.9},{"i":317.2,"v":44.9},{"i":318.8,"v":50.8},{"i":320.4,"v":51.5},{"i":321.8,"v":49.5},{"i":323.1,"v":39.7},{"i":324.7,"v":51.5},{"i":326.2,"v":56.7},{"i":327.5,"v":76.4},{"i":328.5,"v":77.2},{"i":329.4,"v":74.6},{"i":330.2,"v":63.6},{"i":331.2,"v":64.9},{"i":332.3,"v":64.9},{"i":334,"v":62.6}
],
"macd":[
{"i":0,"v":0.093},{"i":2.8,"v":0.08},{"i":6,"v":0.08},{"i":9.3,"v":0.193},{"i":12.3,"v":0.36},{"i":15.8,"v":0.273},{"i":19,"v":0.327},{"i":22,"v":0.44},{"i":25.5,"v":0.327},{"i":29.9,"v":0.16},{"i":32,"v":0.213},{"i":35.3,"v":0.28},{"i":38.5,"v":0.213},{"i":42.9,"v":-0.007},{"i":47.2,"v":-0.173},{"i":50.5,"v":-0.373},{"i":52.6,"v":-0.42},{"i":55.9,"v":-0.373},{"i":59.1,"v":-0.36},{"i":61.3,"v":-0.407},{"i":63.5,"v":-0.54},{"i":65.6,"v":-0.453},{"i":68.9,"v":-0.173},{"i":70.5,"v":-0.013},{"i":73.2,"v":-0.12},{"i":76.5,"v":-0.073},{"i":79.7,"v":-0.373},{"i":83,"v":-0.52},{"i":86.2,"v":-0.673},{"i":88.4,"v":-0.74},{"i":90.6,"v":-0.973},{"i":92.2,"v":-1.05},{"i":93.8,"v":-1.075},{"i":96,"v":-0.973},{"i":98.2,"v":-0.773},{"i":100.3,"v":-0.673},{"i":103.6,"v":-0.693},{"i":106.3,"v":-0.673},{"i":108.5,"v":-0.827},{"i":111.2,"v":-0.573},{"i":113.3,"v":-0.427},{"i":115.5,"v":-0.507},{"i":118.8,"v":-0.54},{"i":122,"v":-0.207},{"i":124.2,"v":-0.16},{"i":126.3,"v":-0.207},{"i":128.5,"v":-0.173},{"i":130.7,"v":-0.207},{"i":133.9,"v":-0.36},{"i":137.2,"v":-0.387},{"i":140.4,"v":-0.387},{"i":145.3,"v":-0.56},{"i":148,"v":-0.54},{"i":151.3,"v":-0.427},{"i":154.5,"v":-0.373},{"i":157.8,"v":-0.187},{"i":161,"v":-0.107},{"i":164.3,"v":-0.007},{"i":167,"v":-0.06},{"i":169.2,"v":-0.08},{"i":173,"v":-0.107},{"i":176.8,"v":-0.06},{"i":183.3,"v":-0.027},{"i":186.5,"v":0.04},{"i":190.9,"v":0.147},{"i":193,"v":0.273},{"i":195.2,"v":0.24},{"i":198.4,"v":0.327},{"i":201.7,"v":0.327},{"i":204.4,"v":0.16},{"i":207.1,"v":-0.107},{"i":209.8,"v":-0.407},{"i":212.5,"v":-0.573},{"i":215.8,"v":-0.64},{"i":218.5,"v":-0.573},{"i":221.2,"v":-0.64},{"i":223.4,"v":-0.52},{"i":226.1,"v":-0.34},{"i":229.3,"v":-0.273},{"i":232,"v":-0.12},{"i":236.4,"v":0.28},{"i":240.2,"v":0.48},{"i":242.9,"v":0.44},{"i":246.1,"v":0.307},{"i":249.4,"v":0.28},{"i":252.6,"v":0.28},{"i":254.8,"v":0.393},{"i":257,"v":0.427},{"i":261.3,"v":0.793},{"i":264.6,"v":0.773},{"i":267.8,"v":0.693},{"i":271.1,"v":0.727},{"i":275.4,"v":0.64},{"i":278.7,"v":0.707},{"i":281.9,"v":0.68},{"i":285.2,"v":0.813},{"i":287.3,"v":0.88},{"i":290,"v":1.075},{"i":292.8,"v":1.04},{"i":296,"v":0.96},{"i":299.3,"v":0.827},{"i":302,"v":0.427},{"i":305.2,"v":0.127},{"i":307.9,"v":-0.04},{"i":310.6,"v":-0.16},{"i":313.9,"v":-0.073},{"i":317.7,"v":-0.04},{"i":321,"v":-0.04},{"i":324,"v":-0.12},{"i":326.4,"v":-0.007},{"i":328.5,"v":0.727},{"i":330.7,"v":0.86},{"i":332.3,"v":0.907},{"i":334,"v":0.893}
],
"sig":[
{"i":0,"v":0.28},{"i":4.9,"v":0.127},{"i":10.3,"v":0.213},{"i":15.8,"v":0.26},{"i":23.4,"v":0.36},{"i":27.7,"v":0.28},{"i":32,"v":0.24},{"i":38.5,"v":0.24},{"i":45,"v":0.027},{"i":49.4,"v":-0.093},{"i":53.7,"v":-0.293},{"i":59.1,"v":-0.34},{"i":62.4,"v":-0.407},{"i":65.6,"v":-0.453},{"i":70,"v":-0.24},{"i":73.2,"v":-0.16},{"i":76.5,"v":-0.12},{"i":79.7,"v":-0.207},{"i":85.1,"v":-0.427},{"i":89.5,"v":-0.64},{"i":92.7,"v":-0.853},{"i":95.4,"v":-0.94},{"i":99.2,"v":-0.807},{"i":102.5,"v":-0.74},{"i":106.8,"v":-0.72},{"i":109,"v":-0.773},{"i":112.3,"v":-0.64},{"i":115.5,"v":-0.56},{"i":118.8,"v":-0.54},{"i":123.1,"v":-0.32},{"i":127.4,"v":-0.24},{"i":130.7,"v":-0.207},{"i":133.9,"v":-0.273},{"i":140.4,"v":-0.36},{"i":143.7,"v":-0.427},{"i":147,"v":-0.493},{"i":151.3,"v":-0.44},{"i":155.6,"v":-0.34},{"i":160,"v":-0.227},{"i":164.3,"v":-0.14},{"i":169.2,"v":-0.073},{"i":175.7,"v":-0.073},{"i":183.3,"v":-0.053},{"i":188.7,"v":0.06},{"i":193,"v":0.147},{"i":197.4,"v":0.213},{"i":202.8,"v":0.28},{"i":207.1,"v":0.127},{"i":210.4,"v":-0.073},{"i":213.6,"v":-0.373},{"i":216.9,"v":-0.493},{"i":221.2,"v":-0.573},{"i":225.5,"v":-0.473},{"i":229.9,"v":-0.387},{"i":234.2,"v":-0.173},{"i":238.6,"v":0.093},{"i":242.9,"v":0.307},{"i":247.2,"v":0.327},{"i":251.6,"v":0.293},{"i":255.9,"v":0.36},{"i":260.2,"v":0.593},{"i":264.6,"v":0.707},{"i":270,"v":0.727},{"i":275.4,"v":0.693},{"i":280.8,"v":0.693},{"i":286.3,"v":0.76},{"i":290.6,"v":0.947},{"i":294.4,"v":0.993},{"i":299.3,"v":0.907},{"i":303.6,"v":0.547},{"i":307.9,"v":0.193},{"i":311.2,"v":0.013},{"i":314.4,"v":-0.04},{"i":318.8,"v":-0.053},{"i":323.7,"v":-0.053},{"i":325.8,"v":-0.04},{"i":328.5,"v":0.193},{"i":331.2,"v":0.493},{"i":334,"v":0.64}
],
"levels":[{"p":186,"t":"R2 - 186.00","k":"R"},{"p":185,"t":"R1 - 185.00","k":"R"},{"p":184,"t":"S1 - 184.00","k":"S"},{"p":182.8,"t":"S2 - 182.80","k":"S"},{"p":181.45,"t":"S3 - 181.45","k":"S"}],
"boxes":[{"p":186,"t":"186.000","k":"R"},{"p":185,"t":"185.000","k":"R"},{"p":184.747,"t":"184.747","k":"C"},{"p":184,"t":"184.000","k":"S"},{"p":182.8,"t":"182.800","k":"S"},{"p":181.45,"t":"181.450","k":"S"}],
"ylab":[{"p":185.8,"t":"185.800"},{"p":185.0,"t":"185.000"},{"p":184.2,"t":"184.200"},{"p":183.4,"t":"183.400"},{"p":182.6,"t":"182.600"},{"p":181.8,"t":"181.800"},{"p":181.02,"t":"181.020"},{"p":180.22,"t":"180.220"},{"p":179.42,"t":"179.420"},{"p":178.62,"t":"178.620"},{"p":177.82,"t":"177.820"},{"p":177.02,"t":"177.020"},{"p":176.24,"t":"176.240"},{"p":175.44,"t":"175.440"},{"p":174.64,"t":"174.640"}],
"rsilab":[{"v":94.9,"t":"100"},{"v":70,"t":"70"},{"v":50,"t":"50"},{"v":30,"t":"30"},{"v":4.6,"t":"0"}],
"trend":[{"g":"a","i":216.2,"p":176.5},{"g":"a","i":285.3,"p":182.8},{"g":"b","i":222,"p":174.86},{"g":"b","i":291,"p":181.15},{"g":"c","i":299.1,"p":184.46},{"g":"c","i":332,"p":181.43},{"g":"d","i":290.1,"p":181.85},{"g":"d","i":332,"p":180.56}],
"rsilev":[{"v":30},{"v":50},{"v":70}],
"rsitrend":[{"i":281,"v":82.1},{"i":341,"v":77}],
"macdtrend":[{"i":290,"v":1.1},{"i":350,"v":0.85}],
"titles":[{"k":"main","t":"▼ GBPJPY,H4 184.674 184.919 184.670 184.747"},{"k":"rsi","t":"RSI(14) 62.6455"},{"k":"macd","t":"FXBay - MACD (12,26,9) 0.7901 0.5893 0.2009"}]
},
"vconcat":[
{
"width":1680,"height":499,
"layer":[
{"data":{"name":"levels"},"mark":{"type":"rule","strokeDash":[14,5],"strokeWidth":1},
 "encoding":{"y":{"field":"p","type":"quantitative","title":null,"scale":{"domain":[174.541,186.638],"nice":false,"zero":false},
   "axis":{"orient":"right","values":[185.8,185.0,184.2,183.4,182.6,181.8,181.02,180.22,179.42,178.62,177.82,177.02,176.24,175.44,174.64],"labels":false,"tickSize":3,"domain":false,"grid":false,"tickColor":"#000","title":null}},
  "color":{"field":"k","type":"nominal","scale":{"domain":["R","S","C"],"range":["#ff0000","#008000","#000000"]},"legend":null}}},
{"data":{"name":"boxes"},"transform":[{"filter":"datum.k=='C'"}],"mark":{"type":"rule","color":"#c0c0c0","strokeWidth":1},
 "encoding":{"y":{"field":"p","type":"quantitative","title":null}}},
{"data":{"name":"ma200"},"mark":{"type":"line","color":"#d2691e","strokeWidth":2.5},
 "encoding":{"x":{"field":"i","type":"quantitative","scale":{"domain":[-0.25,419.75],"nice":false,"zero":false},"axis":null},"y":{"field":"v","type":"quantitative","title":null}}},
{"data":{"name":"ma50"},"mark":{"type":"line","color":"#22e822","strokeWidth":2},
 "encoding":{"x":{"field":"i","type":"quantitative","axis":null},"y":{"field":"v","type":"quantitative","title":null}}},
{"data":{"name":"bars"},"mark":{"type":"rule","color":"#000","strokeWidth":1},
 "encoding":{"x":{"field":"i","type":"quantitative","axis":null},"y":{"field":"l","type":"quantitative","title":null},"y2":{"field":"h"}}},
{"data":{"name":"bars"},"mark":{"type":"bar","width":2,"stroke":"#000","strokeWidth":1},
 "encoding":{"x":{"field":"i","type":"quantitative","axis":null},"y":{"field":"o","type":"quantitative","title":null},"y2":{"field":"c"},
  "fill":{"condition":{"test":"datum.c >= datum.o","value":"#008000"},"value":"#ff0000"}}},
{"data":{"name":"trend"},"mark":{"type":"line","color":"#000","strokeWidth":2},
 "encoding":{"x":{"field":"i","type":"quantitative","axis":null},"y":{"field":"p","type":"quantitative","title":null},"detail":{"field":"g"}}},
{"data":{"name":"levels"},"transform":[{"filter":"datum.k=='R'"}],"mark":{"type":"text","align":"right","baseline":"middle","dy":-10,"fontSize":16,"font":"Liberation Sans"},
 "encoding":{"x":{"datum":418.8,"type":"quantitative","axis":null},"y":{"field":"p","type":"quantitative","title":null},"text":{"field":"t"},"color":{"field":"k","type":"nominal","legend":null}}},
{"data":{"name":"levels"},"transform":[{"filter":"datum.k=='S'"}],"mark":{"type":"text","align":"right","baseline":"middle","dy":10,"fontSize":16,"font":"Liberation Sans"},
 "encoding":{"x":{"datum":418.8,"type":"quantitative","axis":null},"y":{"field":"p","type":"quantitative","title":null},"text":{"field":"t"},"color":{"field":"k","type":"nominal","legend":null}}},
{"data":{"name":"ylab"},"mark":{"type":"text","align":"left","baseline":"middle","fontSize":9,"color":"#000","font":"Liberation Sans"},
 "encoding":{"x":{"datum":420.85,"type":"quantitative","axis":null},"y":{"field":"p","type":"quantitative","title":null},"text":{"field":"t"}}},
{"data":{"name":"boxes"},"mark":{"type":"tick","orient":"horizontal","size":41,"thickness":10,"opacity":1},
 "encoding":{"x":{"datum":425.44,"type":"quantitative","axis":null},"y":{"field":"p","type":"quantitative","title":null},"color":{"field":"k","type":"nominal","legend":null}}},
{"data":{"name":"boxes"},"mark":{"type":"text","align":"center","baseline":"middle","fontSize":9,"color":"#fff","font":"Liberation Sans"},
 "encoding":{"x":{"datum":425.44,"type":"quantitative","axis":null},"y":{"field":"p","type":"quantitative","title":null},"text":{"field":"t"}}},
{"data":{"name":"titles"},"transform":[{"filter":"datum.k=='main'"}],"mark":{"type":"text","align":"left","baseline":"middle","fontSize":9.5,"color":"#000","font":"Liberation Sans"},
 "encoding":{"x":{"datum":0.75,"type":"quantitative","axis":null},"y":{"datum":186.427,"type":"quantitative","title":null},"text":{"field":"t"}}}
]
},
{
"width":1680,"height":130,
"layer":[
{"data":{"name":"rsilev"},"mark":{"type":"rule","color":"#c0c0c0","strokeDash":[4,3],"strokeWidth":1},
 "encoding":{"y":{"field":"v","type":"quantitative","title":null,"scale":{"domain":[0,100],"nice":false,"zero":false},
  "axis":{"orient":"right","values":[0,30,50,70,100],"labels":false,"tickSize":3,"domain":false,"grid":false,"tickColor":"#000","title":null}}}},
{"data":{"name":"rsi"},"mark":{"type":"line","color":"#000","strokeWidth":1},
 "encoding":{"x":{"field":"i","type":"quantitative","scale":{"domain":[-0.25,419.75],"nice":false,"zero":false},"axis":null},"y":{"field":"v","type":"quantitative","title":null}}},
{"data":{"name":"rsitrend"},"mark":{"type":"line","color":"#000","strokeWidth":2},
 "encoding":{"x":{"field":"i","type":"quantitative","axis":null},"y":{"field":"v","type":"quantitative","title":null}}},
{"data":{"name":"rsilab"},"mark":{"type":"text","align":"left","baseline":"middle","fontSize":9,"color":"#000","font":"Liberation Sans"},
 "encoding":{"x":{"datum":420.85,"type":"quantitative","axis":null},"y":{"field":"v","type":"quantitative","title":null},"text":{"field":"t"}}},
{"data":{"name":"titles"},"transform":[{"filter":"datum.k=='rsi'"}],"mark":{"type":"text","align":"left","baseline":"middle","fontSize":9.5,"color":"#000","font":"Liberation Sans"},
 "encoding":{"x":{"datum":1.0,"type":"quantitative","axis":null},"y":{"datum":93.3,"type":"quantitative","title":null},"text":{"field":"t"}}}
]
},
{
"width":1680,"height":122,
"layer":[
{"data":{"name":"bars"},"mark":{"type":"rule","color":"#808080","strokeWidth":1},
 "encoding":{"x":{"field":"i","type":"quantitative","title":null,"scale":{"domain":[-0.25,419.75],"nice":false,"zero":false},
   "axis":{"values":[0,16,32,48,64,80,96,112,128,144,160,176,192,208,224,240,256,272,288,304,320],
    "labelExpr":"['20 Feb 2015','25 Feb 04:00','27 Feb 20:00','4 Mar 12:00','9 Mar 04:00','11 Mar 20:00','16 Mar 12:00','19 Mar 04:00','23 Mar 20:00','26 Mar 12:00','31 Mar 04:00','2 Apr 20:00','7 Apr 12:00','10 Apr 04:00','14 Apr 20:00','17 Apr 12:00','22 Apr 04:00','24 Apr 20:00','29 Apr 12:00','4 May 04:00','6 May 20:00'][round(datum.value/16)]",
    "labelAlign":"left","labelOffset":1,"tickSize":4,"labelPadding":1,"labelBaseline":"top","domain":false,"grid":false,"labelFontSize":9.5,"labelColor":"#000","tickColor":"#000","labelOverlap":false,"labelFlush":false,"title":null}},
  "y":{"field":"m","type":"quantitative","title":null,"scale":{"domain":[-1.203,1.213],"nice":false,"zero":false},
   "axis":{"orient":"right","values":[1.0748,0,-1.0781],"labelExpr":"datum.value==0 ? '0.00' : format(datum.value,'.4f')","tickSize":3,"labelPadding":2,"domain":false,"grid":false,"labelFontSize":9,"labelColor":"#000","tickColor":"#000","title":null,"labelAlign":"left","labelBaseline":"middle","labelOverlap":false}},
  "y2":{"datum":0}}},
{"data":{"name":"macd"},"mark":{"type":"line","color":"#000","strokeWidth":1},
 "encoding":{"x":{"field":"i","type":"quantitative","title":null},"y":{"field":"v","type":"quantitative","title":null}}},
{"data":{"name":"sig"},"mark":{"type":"line","color":"#ff0000","strokeWidth":1},
 "encoding":{"x":{"field":"i","type":"quantitative","title":null},"y":{"field":"v","type":"quantitative","title":null}}},
{"data":{"name":"macdtrend"},"mark":{"type":"line","color":"#000","strokeWidth":2},
 "encoding":{"x":{"field":"i","type":"quantitative","title":null},"y":{"field":"v","type":"quantitative","title":null}}},
{"data":{"name":"titles"},"transform":[{"filter":"datum.k=='macd'"}],"mark":{"type":"text","align":"left","baseline":"middle","fontSize":9.5,"color":"#000","font":"Liberation Sans"},
 "encoding":{"x":{"datum":1.0,"type":"quantitative","title":null},"y":{"datum":1.048,"type":"quantitative","title":null},"text":{"field":"t"}}}
]
}
]
}
